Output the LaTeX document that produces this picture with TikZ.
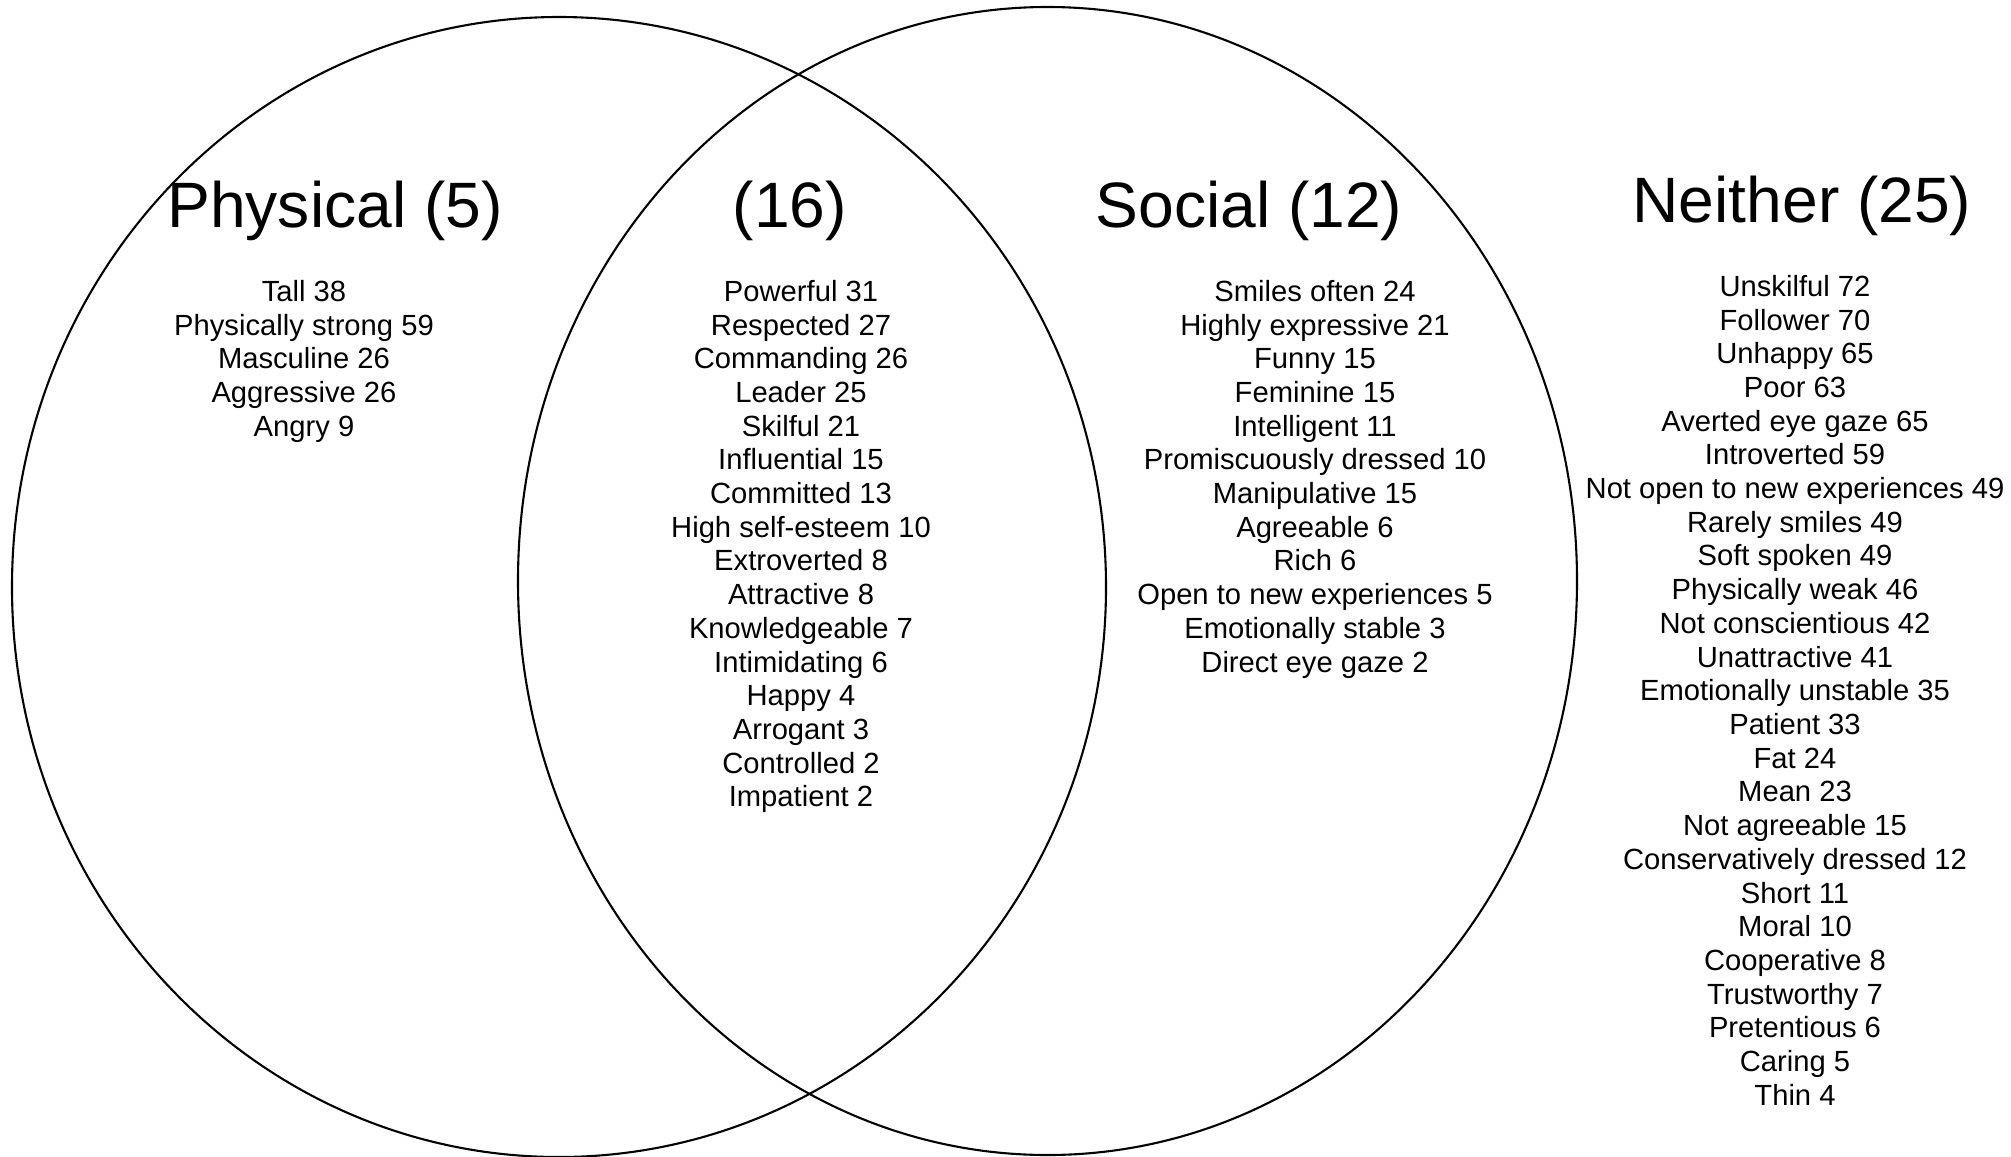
\documentclass[tikz,border=0pt]{standalone}
\usepackage{fontspec}
\setmainfont{Liberation Sans}
\usepackage{tikz}

\begin{document}
\begin{tikzpicture}[
  x=1bp, y=-1bp,
  ring/.style={draw=black, line width=2.1pt},
  head/.style={font=\fontsize{64.4}{75}\selectfont, inner sep=0pt, anchor=base},
  items/.style={font=\fontsize{29.3}{33.83}\selectfont, align=center, inner sep=0pt, anchor=north},
]
\useasboundingbox (0,0) rectangle (2011,1156);

% the two sets
\draw[ring] (559,587) ellipse [x radius=547bp, y radius=570bp];
\draw[ring] (1047.5,581) ellipse [x radius=529.5bp, y radius=574bp];

% headings
\node[head] (physHead) at (335,227) {Physical (5)};
\node[head] (bothHead) at (790,227) {(16)};
\node[head] (socHead) at (1249,227) {Social (12)};
\node[head] (noneHead) at (1802,222) {Neither (25)};

% physical only
\node[items] (physList) at (304,280) {%
  Tall 38\\ Physically strong 59\\ Masculine 26\\ Aggressive 26\\ Angry 9};

% both
\node[items] (bothList) at (801,280) {%
  Powerful 31\\ Respected 27\\ Commanding 26\\ Leader 25\\ Skilful 21\\
  Influential 15\\ Committed 13\\ High self-esteem 10\\ Extroverted 8\\
  Attractive 8\\ Knowledgeable 7\\ Intimidating 6\\ Happy 4\\ Arrogant 3\\
  Controlled 2\\ Impatient 2};

% social only
\node[items] (socList) at (1315,280) {%
  Smiles often 24\\ Highly expressive 21\\ Funny 15\\ Feminine 15\\
  Intelligent 11\\ Promiscuously dressed 10\\ Manipulative 15\\ Agreeable 6\\
  Rich 6\\ Open to new experiences 5\\ Emotionally stable 3\\ Direct eye gaze 2};

% neither
\node[items] (noneList) at (1795,275) {%
  Unskilful 72\\ Follower 70\\ Unhappy 65\\ Poor 63\\ Averted eye gaze 65\\
  Introverted 59\\ Not open to new experiences 49\\ Rarely smiles 49\\
  Soft spoken 49\\ Physically weak 46\\ Not conscientious 42\\ Unattractive 41\\
  Emotionally unstable 35\\ Patient 33\\ Fat 24\\ Mean 23\\ Not agreeable 15\\
  Conservatively dressed 12\\ Short 11\\ Moral 10\\ Cooperative 8\\
  Trustworthy 7\\ Pretentious 6\\ Caring 5\\ Thin 4};

\end{tikzpicture}
\end{document}
